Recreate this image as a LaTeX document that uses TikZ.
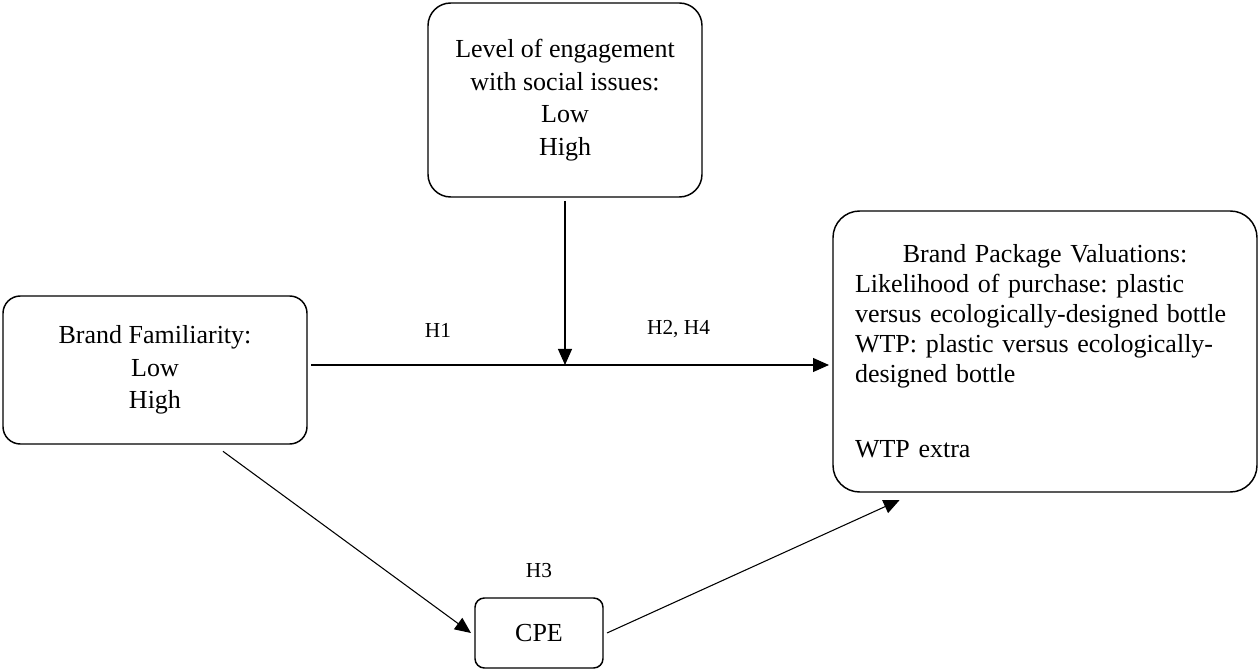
\documentclass[tikz,border=0pt]{standalone}
\usepackage{fontspec}
\setmainfont{Liberation Serif}
\setlength{\parindent}{0pt}
\frenchspacing
\usetikzlibrary{positioning,arrows.meta}
\tikzset{
  rb/.style={rectangle, rounded corners=13pt, draw=black, line width=1.1pt, outer sep=3pt, align=center, font=\fontsize{19.5}{24.5}\selectfont},
  hl/.style={font=\fontsize{16}{19}\selectfont},
  ar/.style={-{Triangle[length=12pt,width=10.5pt]}, line width=0.8pt}
}

\begin{document}
\begin{tikzpicture}[x=0.75pt, y=-0.75pt]
	\useasboundingbox (0,0) rectangle (1258,670);
	\node[rb, minimum width=205.5pt, minimum height=145.5pt, rounded corners=17pt] (engage) at (565,100) {Level of engagement\\with social issues:\\Low\\High};
	\node[rb, minimum width=228pt, minimum height=111pt] (fam) at (155,370) {Brand Familiarity:\\Low\\High};
	\node[rb, minimum width=318pt, minimum height=210.75pt, rounded corners=20pt, text width=285pt, align=left, font=\fontsize{19.5}{22.5}\selectfont] (val) at (1045,351.5) {{\centering Brand Package Valuations:\par}\raggedright Likelihood of purchase: plastic\\versus ecologically-designed bottle\\WTP: plastic versus ecologically-\\designed bottle\\[33.5pt]WTP extra};
	\node[rb, minimum width=96pt, minimum height=52.5pt, rounded corners=7pt] (cpe) at (539,633) {CPE};
	\node[hl, above=8.5pt of cpe] (h3) {H3};
	%
	\coordinate (mod) at (565,365);
	\draw[ar] (engage) -- (mod);
	\draw[ar] (fam.east |- mod) -- node[hl, above=17pt] (h1) {H1} (mod) -- node[hl, pos=0.43, above=17pt] (h24) {H2, H4} (val.west |- mod);
	\draw[ar] ([xshift=51pt, yshift=-2.5pt]fam.south) -- (cpe.west);
	\draw[ar] (cpe.east) -- ([xshift=53pt, yshift=-3pt]val.south west);
\end{tikzpicture}
\end{document}
